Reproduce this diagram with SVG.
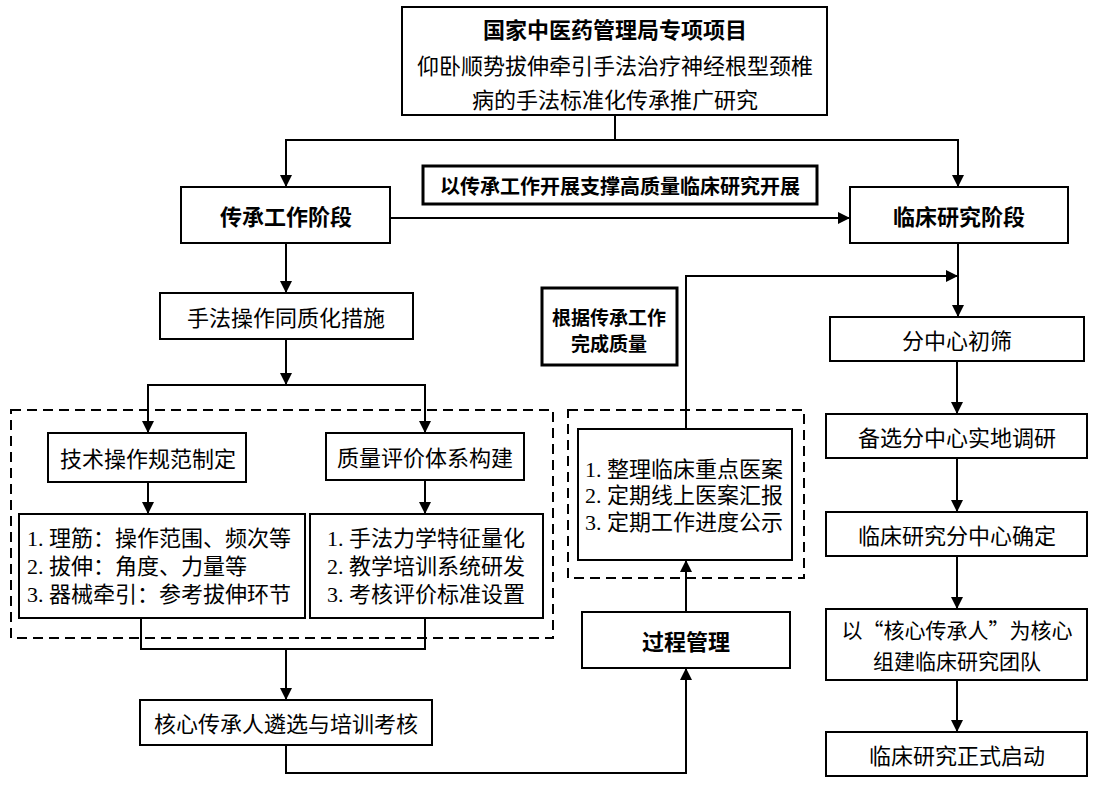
<svg xmlns="http://www.w3.org/2000/svg" width="1096" height="790" viewBox="0 0 1096 790">
<style>
.box{fill:#fff;stroke:#000;stroke-width:2}
.thick{fill:#fff;stroke:#000;stroke-width:3}
.dash{fill:none;stroke:#000;stroke-width:2;stroke-dasharray:10 6}
.ln{fill:none;stroke:#000;stroke-width:2}
.arr{marker-end:url(#ah)}
text{font-family:"Noto Sans CJK SC",sans-serif;font-size:22px;fill:#000;dominant-baseline:central}
.c{text-anchor:middle}
.b{font-weight:bold}
.l{font-family:"Liberation Serif","Noto Sans CJK SC",serif;text-anchor:start}
</style>
<defs>
<marker id="ah" markerUnits="userSpaceOnUse" markerWidth="12" markerHeight="12" refX="12" refY="6" orient="auto">
<path d="M0,0 L12,6 L0,12 z" fill="#000"/>
</marker>
</defs>
<rect width="1096" height="790" fill="#fff"/>

<g id="dashed-groups">
<rect class="dash" x="11" y="410" width="542" height="228"/>
<rect class="dash" x="568" y="410" width="236" height="168"/>
</g>

<g id="connectors">
<path class="ln" d="M615,115 V140"/>
<path class="ln arr" d="M615,140 H286 V187"/>
<path class="ln arr" d="M615,140 H958 V187"/>
<path class="ln arr" d="M390,218 H850"/>
<path class="ln arr" d="M286,243 V293"/>
<path class="ln arr" d="M286,339 V385"/>
<path class="ln arr" d="M286,385 H148 V433"/>
<path class="ln arr" d="M286,385 H425 V433"/>
<path class="ln arr" d="M148,482 V514"/>
<path class="ln arr" d="M425,480 V514"/>
<path class="ln" d="M141,618 V649 H425 V618"/>
<path class="ln arr" d="M286,649 V700"/>
<path class="ln arr" d="M286,745 V773 H686 V668"/>
<path class="ln arr" d="M686,612 V560"/>
<path class="ln arr" d="M686,429 V276 H958"/>
<path class="ln arr" d="M958,243 V317"/>
<path class="ln arr" d="M957,361 V414"/>
<path class="ln arr" d="M957,458 V512"/>
<path class="ln arr" d="M957,556 V609"/>
<path class="ln arr" d="M957,680 V732"/>
</g>

<g id="project">
<rect class="box" x="402" y="7" width="425" height="108"/>
<text class="c b" x="615" y="28">国家中医药管理局专项项目</text>
<text class="c" x="615" y="64">仰卧顺势拔伸牵引手法治疗神经根型颈椎</text>
<text class="c" x="615" y="98">病的手法标准化传承推广研究</text>
</g>

<g id="support-label">
<rect class="thick" x="423" y="166" width="394" height="38"/>
<text class="c b" x="620" y="185" style="font-size:20px">以传承工作开展支撑高质量临床研究开展</text>
</g>

<g id="inherit-stage">
<rect class="box" x="181" y="187" width="209" height="56"/>
<text class="c b" x="286" y="215">传承工作阶段</text>
</g>

<g id="clinical-stage">
<rect class="box" x="850" y="187" width="218" height="56"/>
<text class="c b" x="959" y="215">临床研究阶段</text>
</g>

<g id="homogenize">
<rect class="box" x="160" y="293" width="253" height="46"/>
<text class="c" x="286" y="316">手法操作同质化措施</text>
</g>

<g id="spec">
<rect class="box" x="48" y="433" width="198" height="49"/>
<text class="c" x="148" y="457">技术操作规范制定</text>
</g>

<g id="eval">
<rect class="box" x="326" y="433" width="198" height="47"/>
<text class="c" x="425" y="456">质量评价体系构建</text>
</g>

<g id="spec-list">
<rect class="box" x="19" y="514" width="286" height="104"/>
<text class="l" x="27" y="538">1. 理筋：操作范围、频次等</text>
<text class="l" x="27" y="566">2. 拔伸：角度、力量等</text>
<text class="l" x="27" y="594">3. 器械牵引：参考拔伸环节</text>
</g>

<g id="eval-list">
<rect class="box" x="310" y="514" width="233" height="104"/>
<text class="l" x="327" y="538">1. 手法力学特征量化</text>
<text class="l" x="327" y="566">2. 教学培训系统研发</text>
<text class="l" x="327" y="594">3. 考核评价标准设置</text>
</g>

<g id="core-select">
<rect class="box" x="140" y="700" width="292" height="45"/>
<text class="c" x="286" y="722">核心传承人遴选与培训考核</text>
</g>

<g id="quality-label">
<rect class="thick" x="542" y="288" width="135" height="77"/>
<text class="c b" x="609" y="316" style="font-size:19px">根据传承工作</text>
<text class="c b" x="609" y="342" style="font-size:19px">完成质量</text>
</g>

<g id="process-list">
<rect class="box" x="578" y="429" width="214" height="131"/>
<text class="l" x="585" y="469">1. 整理临床重点医案</text>
<text class="l" x="585" y="495">2. 定期线上医案汇报</text>
<text class="l" x="585" y="522">3. 定期工作进度公示</text>
</g>

<g id="process-mgmt">
<rect class="box" x="582" y="612" width="208" height="56"/>
<text class="c b" x="686" y="640">过程管理</text>
</g>

<g id="screen">
<rect class="box" x="830" y="317" width="254" height="44"/>
<text class="c" x="957" y="339">分中心初筛</text>
</g>

<g id="survey">
<rect class="box" x="826" y="414" width="261" height="44"/>
<text class="c" x="957" y="436">备选分中心实地调研</text>
</g>

<g id="confirm">
<rect class="box" x="826" y="512" width="261" height="44"/>
<text class="c" x="957" y="534">临床研究分中心确定</text>
</g>

<g id="team">
<rect class="box" x="826" y="609" width="261" height="71"/>
<text class="c" x="957" y="629" style="font-size:21px">以“核心传承人”为核心</text>
<text class="c" x="957" y="660" style="font-size:21px">组建临床研究团队</text>
</g>

<g id="launch">
<rect class="box" x="826" y="732" width="261" height="44"/>
<text class="c" x="957" y="754">临床研究正式启动</text>
</g>
</svg>
